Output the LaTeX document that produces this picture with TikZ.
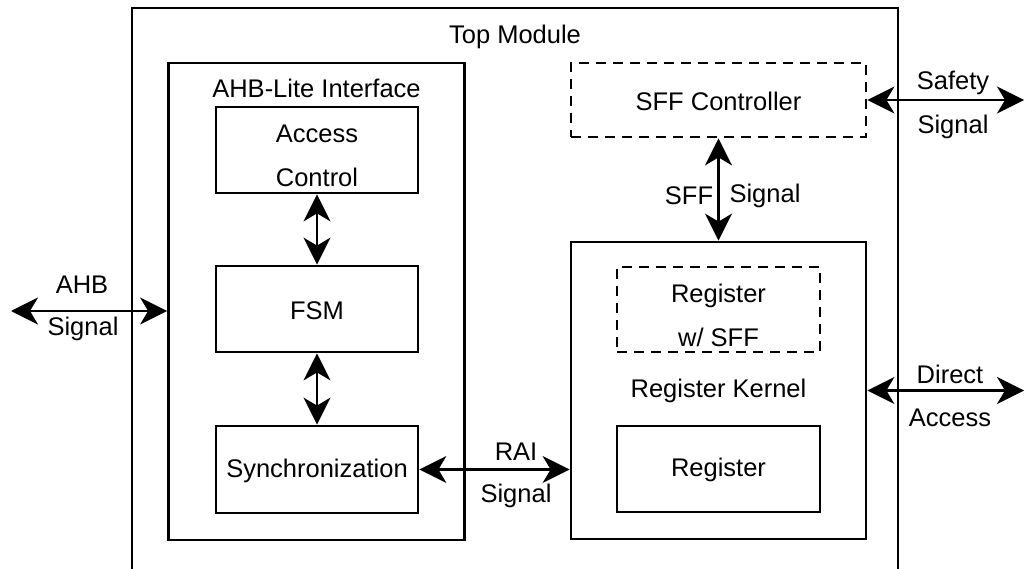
\documentclass[tikz,border=0pt]{standalone}
\usepackage{fontspec}
\setmainfont{Liberation Sans}
\usetikzlibrary{arrows.meta}
\begin{document}
\begin{tikzpicture}[x=1pt,y=-1pt,
  txt/.style={font=\fontsize{25.5}{44}\selectfont, inner sep=0pt, align=center},
  box/.style={draw, line width=2.8pt, inner sep=0pt, font=\fontsize{25.5}{44}\selectfont, align=center},
  dbox/.style={box, dash pattern=on 10pt off 7pt},
  biarrow/.style={line width=2.6pt, {Stealth[length=27pt,width=27pt,inset=8pt]}-{Stealth[length=27pt,width=27pt,inset=8pt]}}
]
\useasboundingbox (0,0) rectangle (1025,569);
% Top module frame (open at the bottom edge)
\draw[line width=2.8pt] (132,571) -- (132,8) -- (898,8) -- (898,571);
\node[txt] (toplbl) at (515,37) {Top Module};

% AHB-Lite interface
\node[box, minimum width=296pt, minimum height=477pt] (ahb) at (316.5,301.5) {};
\node[txt] (ahblbl) at (316.5,88) {AHB-Lite Interface};
\node[box, minimum width=202pt, minimum height=86pt] (ac) at (317,150) {};
\node[txt] (actxt) at (317,156) {Access\\Control};
\node[box, minimum width=202pt, minimum height=86pt] (fsm) at (317,309) {};
\node[txt] (fsmtxt) at (317,311) {FSM};
\node[box, minimum width=202pt, minimum height=87pt] (sync) at (317,469.5) {};
\node[txt] (synctxt) at (317,471) {Synchronization};

% SFF controller
\node[dbox, minimum width=295pt, minimum height=74pt] (sffc) at (718.5,100) {};
\node[txt] (sffctxt) at (718.5,101) {SFF Controller};

% Register kernel
\node[box, minimum width=295pt, minimum height=297pt] (rk) at (718.5,390.5) {};
\node[txt] (rklbl) at (718.5,391) {Register Kernel};
\node[dbox, minimum width=203pt, minimum height=85pt] (rsff) at (718.5,309.5) {};
\node[txt] (rsfftxt) at (718.5,315) {Register\\w/ SFF};
\node[box, minimum width=203pt, minimum height=86pt] (reg) at (718.5,469) {};
\node[txt] (regtxt) at (718.5,470) {Register};

% connectors
\coordinate (ahbend) at (11,311);
\coordinate (safend) at (1024,100);
\coordinate (daend) at (1024,390.5);
\draw[biarrow] (ahbend) -- (ahbend -| ahb.west);
\draw[biarrow] (ac.south) -- (fsm.north);
\draw[biarrow] (fsm.south) -- (sync.north);
\draw[biarrow] (sync.east) -- (sync.east -| rk.west);
\draw[biarrow] (sffc.south) -- (rk.north);
\draw[biarrow] (sffc.east) -- (safend);
\draw[biarrow] (rk.east) -- (daend);

% connector labels
\node[txt] (l1) at (82,285) {AHB};
\node[txt] (l2) at (83,329) {Signal};
\node[txt] (l3) at (953,83) {Safety};
\node[txt] (l4) at (953,127) {Signal};
\node[txt] (l5) at (950,374) {Direct};
\node[txt] (l6) at (950,418) {Access};
\node[txt] (l7) at (516,452) {RAI};
\node[txt] (l8) at (516,496) {Signal};
\node[txt] (l9) at (689,196) {SFF};
\node[txt] (l10) at (765,196) {Signal};
\end{tikzpicture}
\end{document}
